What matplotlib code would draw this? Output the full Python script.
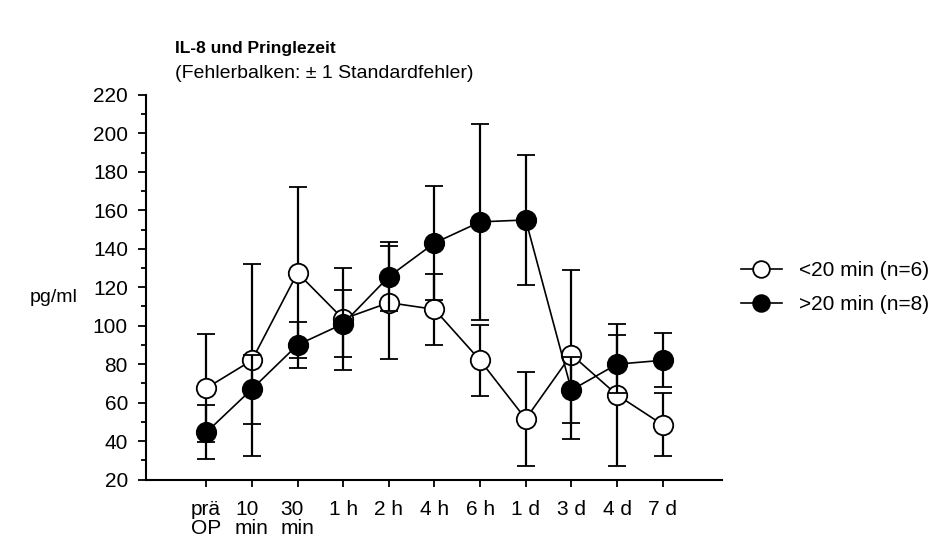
import matplotlib
matplotlib.use("Agg")
import matplotlib.pyplot as plt
from matplotlib.ticker import MultipleLocator
from matplotlib.lines import Line2D

plt.rcParams['font.family'] = ['Liberation Sans', 'DejaVu Sans']

labels = ["prä\nOP", "10\nmin", "30\nmin", "1 h", "2 h", "4 h", "6 h", "1 d", "3 d", "4 d", "7 d"]
open_mean = [67.5, 82, 127.5, 103.5, 112, 108.5, 82, 51.5, 85, 64, 48.5]
open_se = [28, 50, 44.5, 26.5, 29.5, 18.5, 18.5, 24.5, 44, 37, 16.5]
filled_mean = [44.5, 67, 90, 101, 125.5, 143, 154, 155, 66.5, 80, 82]
filled_se = [14, 18, 12, 17.5, 18, 29.5, 51, 34, 17, 15, 14]
series_names = ["<20 min (n=6)", ">20 min (n=8)"]

fig = plt.figure(figsize=(9.36, 5.39), dpi=100)
ax = fig.add_axes([146/936, 1-479.5/539, (722-146)/936, (479.5-95)/539])

x = list(range(len(labels)))
common = dict(color='black', linewidth=1.2, elinewidth=1.6, capsize=6.5, capthick=1.6,
              markersize=14, markeredgewidth=1.3, markeredgecolor='black')
ax.errorbar(x, open_mean, yerr=open_se, fmt='-o', markerfacecolor='white', zorder=3, **common)
ax.errorbar(x, filled_mean, yerr=filled_se, fmt='-o', markerfacecolor='black', zorder=4, **common)

ax.set_xlim(-1.32, 11.3)
ax.set_ylim(20, 220)
ax.set_xticks(x)
ax.set_xticklabels(labels, multialignment='left', linespacing=1.05)
ax.yaxis.set_major_locator(MultipleLocator(20))
ax.yaxis.set_minor_locator(MultipleLocator(10))
for s in ['top', 'right']:
    ax.spines[s].set_visible(False)
for s in ['left', 'bottom']:
    ax.spines[s].set_linewidth(1.5)
ax.tick_params(axis='y', which='major', length=5.5, width=1.3, pad=7.5, labelsize=15)
ax.tick_params(axis='y', which='minor', length=3.5, width=1.3)
ax.tick_params(axis='x', which='major', length=5, width=1.3, pad=9.5, labelsize=15)

fig.text(30/936, 1-297/539, "pg/ml", fontsize=14, va='center', ha='left')
fig.text(175/936, 1-53/539, "IL-8 und Pringlezeit", fontsize=12.5, fontweight='bold',
         va='baseline', ha='left')
fig.text(175/936, 1-78/539, "(Fehlerbalken: ± 1 Standardfehler)", fontsize=14,
         va='baseline', ha='left')

h1 = Line2D([], [], color='black', linewidth=1.2, marker='o', markersize=12,
            markerfacecolor='white', markeredgecolor='black', markeredgewidth=1.3)
h2 = Line2D([], [], color='black', linewidth=1.2, marker='o', markersize=12,
            markerfacecolor='black', markeredgecolor='black', markeredgewidth=1.3)
fig.legend(handles=[h1, h2], labels=series_names, loc='center left',
           bbox_to_anchor=(741/936, 1-287.5/539), frameon=False, fontsize=15,
           handlelength=1.95, handletextpad=0.85, labelspacing=0.7,
           borderpad=0, borderaxespad=0)

fig.savefig("out.png", dpi=100)
